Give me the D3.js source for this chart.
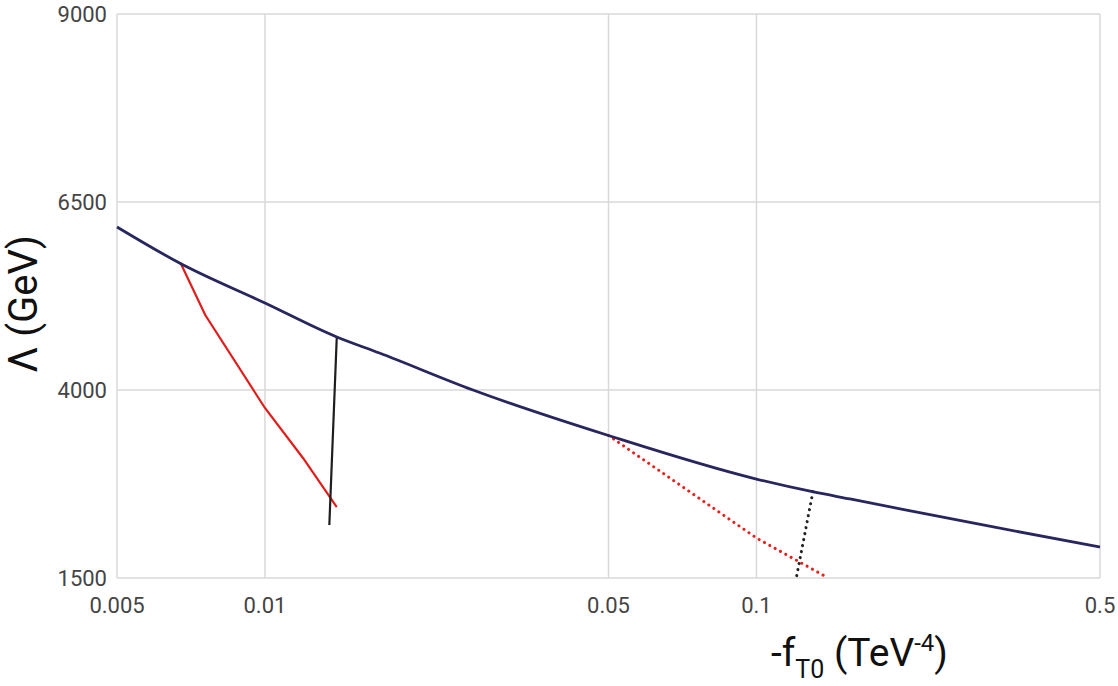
<!DOCTYPE html>
<html>
<head>
<meta charset="utf-8">
<script src="https://cdn.jsdelivr.net/npm/d3@7"></script>
<style>
  body { margin: 0; background: #fff; }
  text { font-family: Roboto, "Noto Sans", sans-serif; }
</style>
</head>
<body>
<div id="chart"></div>
<script>
// data
var xTicks = [0.005, 0.01, 0.05, 0.1, 0.5];
var yTicks = [1500, 4000, 6500, 9000];

var limitX = [0.005, 0.0067, 0.01, 0.014, 0.0171, 0.0265, 0.05, 0.1, 0.13, 0.155, 0.289, 0.5];
var limitY = [6168, 5689, 5157, 4705, 4492, 4000, 3395, 2816, 2648, 2551, 2205, 1912];

var redX = [0.00673, 0.00756, 0.01, 0.01195, 0.0140];
var redY = [5693, 4997, 3761, 3096, 2444];

var blackX = [0.0140, 0.01352];
var blackY = [4705, 2205];

var redDotX = [0.05, 0.1, 0.14];
var redDotY = [3395, 2032, 1500];

var blackDotX = [0.1303, 0.1205];
var blackDotY = [2648, 1500];

var W = 1118, H = 686;
var m = [14, 18, 108, 117]; // top right bottom left
var w = W - m[1] - m[3],
    h = H - m[0] - m[2];

var x = d3.scaleLog().domain([0.005, 0.5]).range([0, w]);
var y = d3.scaleLinear().domain([1500, 9000]).range([h, 0]);

var svg = d3.select("#chart").append("svg")
  .attr("width", W)
  .attr("height", H);

var g = svg.append("g")
  .attr("transform", "translate(" + m[3] + "," + m[0] + ")");

// grid
g.append("g").selectAll("line.vx")
  .data(xTicks)
  .enter().append("line")
  .attr("x1", function(d) { return x(d); })
  .attr("x2", function(d) { return x(d); })
  .attr("y1", 0).attr("y2", h)
  .attr("stroke", "#d9d9d9").attr("stroke-width", 1.5);

g.append("g").selectAll("line.hy")
  .data(yTicks)
  .enter().append("line")
  .attr("x1", 0).attr("x2", w)
  .attr("y1", function(d) { return y(d); })
  .attr("y2", function(d) { return y(d); })
  .attr("stroke", "#d9d9d9").attr("stroke-width", 1.5);

// tick labels
g.append("g").selectAll("text")
  .data(xTicks)
  .enter().append("text")
  .attr("x", function(d) { return x(d); })
  .attr("y", h + 35)
  .attr("text-anchor", "middle")
  .attr("font-size", 22)
  .attr("fill", "#444")
  .text(function(d) { return d; });

g.append("g").selectAll("text")
  .data(yTicks)
  .enter().append("text")
  .attr("x", -10)
  .attr("y", function(d) { return y(d); })
  .attr("dy", "0.35em")
  .attr("text-anchor", "end")
  .attr("font-size", 22)
  .attr("fill", "#444")
  .text(function(d) { return d; });

function pts(xs, ys) {
  return xs.map(function(v, i) { return [v, ys[i]]; });
}

var line = d3.line()
  .x(function(d) { return x(d[0]); })
  .y(function(d) { return y(d[1]); });

var smooth = d3.line()
  .curve(d3.curveMonotoneX)
  .x(function(d) { return x(d[0]); })
  .y(function(d) { return y(d[1]); });

g.append("path")
  .attr("d", line(pts(redDotX, redDotY)))
  .attr("fill", "none").attr("stroke", "#e8201c")
  .attr("stroke-width", 3)
  .attr("stroke-linecap", "round")
  .attr("stroke-dasharray", "0.1,6");

g.append("path")
  .attr("d", line(pts(blackDotX, blackDotY)))
  .attr("fill", "none").attr("stroke", "#222")
  .attr("stroke-width", 3)
  .attr("stroke-linecap", "round")
  .attr("stroke-dasharray", "0.1,6");

g.append("path")
  .attr("d", line(pts(redX, redY)))
  .attr("fill", "none").attr("stroke", "#e11d1b")
  .attr("stroke-width", 2.2);

g.append("path")
  .attr("d", line(pts(blackX, blackY)))
  .attr("fill", "none").attr("stroke", "#1e1e1e")
  .attr("stroke-width", 2.2);

g.append("path")
  .attr("d", smooth(pts(limitX, limitY)))
  .attr("fill", "none").attr("stroke", "#28265e")
  .attr("stroke-width", 2.8);

// axis titles
svg.append("text")
  .attr("transform", "translate(" + 37 + "," + 304 + ") rotate(-90)")
  .attr("text-anchor", "middle")
  .attr("font-size", 40)
  .attr("fill", "#111")
  .text("\u039B (GeV)");

var xt = svg.append("text")
  .attr("x", 771)
  .attr("y", 666)
  .attr("font-size", 39)
  .attr("fill", "#111");
xt.append("tspan").text("-f");
xt.append("tspan").attr("font-size", 25).attr("dy", 12).text("T0");
xt.append("tspan").attr("dy", -12).text(" (TeV");
xt.append("tspan").attr("font-size", 24).attr("dy", -15).text("-4");
xt.append("tspan").attr("dy", 15).text(")");
</script>
</body>
</html>
